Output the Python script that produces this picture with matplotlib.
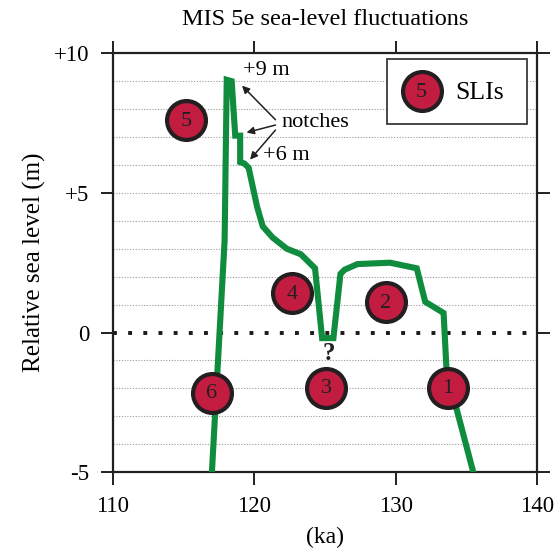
import matplotlib.pyplot as plt

plt.rcParams['font.family'] = ['Liberation Serif', 'DejaVu Serif']

# sea-level curve (ka, m)
age = [117.0, 117.9, 118.05, 118.4, 118.65, 119.0, 119.0, 119.3, 119.6, 120.2,
       120.6, 121.3, 122.3, 123.3, 124.3, 124.8, 125.6, 126.1, 126.4, 127.3,
       129.6, 131.5, 132.1, 133.4, 133.6, 134.3, 135.5]
level = [-5.0, 3.3, 9.05, 9.0, 7.05, 7.05, 6.1, 6.05, 5.9, 4.5,
         3.8, 3.4, 3.0, 2.8, 2.3, -0.2, -0.2, 2.1, 2.25, 2.45,
         2.5, 2.3, 1.1, 0.7, -1.25, -2.7, -5.0]

# sea-level index points
sli_age = [133.7, 129.3, 125.1, 122.7, 115.2, 117.0]
sli_level = [-1.97, 1.1, -1.97, 1.4, 7.6, -2.15]
sli_labels = ['1', '2', '3', '4', '5', '6']

xticks = [110, 120, 130, 140]
yticks = [-5, 0, 5, 10]
ytick_labels = ['-5', '0', '+5', '+10']

green = '#0f8c3e'
red = '#c21c40'
dark = '#231f20'

fig = plt.figure(figsize=(5.54, 5.49), dpi=100)
ax = fig.add_axes([0.204, 0.140, 0.765, 0.763])
ax.set_xlim(110, 140)
ax.set_ylim(-5, 10)

for yv in range(-4, 10):
    if yv == 0:
        continue
    ax.axhline(yv, color='#9a9a9a', lw=0.8, ls=(0, (1, 1.5)), zorder=1)
ax.axhline(0, color='#1a1a1a', lw=2.8, ls=(0, (1, 2.9)), zorder=2)

ax.plot(age, level, color=green, lw=4.4, solid_joinstyle='miter', zorder=3)

for xa, yl, lab in zip(sli_age, sli_level, sli_labels):
    ax.plot(xa, yl, 'o', ms=28, mfc=red, mec=dark, mew=3, zorder=4)
    ax.text(xa, yl - 0.05, lab, ha='center', va='center', fontsize=16,
            color=dark, zorder=5)

ax.text(125.25, -0.75, '?', ha='center', va='center', fontsize=18,
        fontweight='bold', color=dark)

# notch annotations
ax.text(119.2, 9.38, '+9 m', ha='left', va='center', fontsize=16)
ax.text(121.9, 7.52, 'notches', ha='left', va='center', fontsize=16)
ax.text(120.6, 6.34, '+6 m', ha='left', va='center', fontsize=16)
arrow = dict(arrowstyle='-|>', color=dark, lw=1.1, mutation_scale=11,
             shrinkA=0, shrinkB=0)
ax.annotate('', xy=(119.13, 8.84), xytext=(121.5, 7.62), arrowprops=arrow)
ax.annotate('', xy=(119.45, 7.16), xytext=(121.5, 7.43), arrowprops=arrow)
ax.annotate('', xy=(119.7, 6.19), xytext=(121.5, 7.25), arrowprops=arrow)

# legend box
ax.add_patch(plt.Rectangle((0.647, 0.832), 0.33, 0.155,
                           transform=ax.transAxes, fc='white',
                           ec='#3a3a3a', lw=1.3, zorder=6))
ax.plot(0.728, 0.909, 'o', ms=28, mfc=red, mec=dark, mew=3,
        transform=ax.transAxes, zorder=7)
ax.text(0.728, 0.906, '5', ha='center', va='center', fontsize=16,
        color=dark, transform=ax.transAxes, zorder=8)
ax.text(0.865, 0.906, 'SLIs', ha='center', va='center', fontsize=18.5,
        transform=ax.transAxes, zorder=8)

ax.set_xticks(xticks)
ax.set_yticks(yticks)
ax.set_yticklabels(ytick_labels)
ax.tick_params(direction='out', length=9, width=1.4, labelsize=16.5,
               top=True, right=True, color=dark)
ax.tick_params(axis='y', pad=8)
ax.tick_params(axis='x', pad=8)
for s in ax.spines.values():
    s.set_linewidth(1.6)
    s.set_color(dark)

ax.set_title('MIS 5e sea-level fluctuations', fontsize=17.5, pad=20)
ax.set_xlabel('(ka)', fontsize=17, labelpad=7)
ax.set_ylabel('Relative sea level (m)', fontsize=18, labelpad=6)

fig.savefig('out.png', dpi=100)
